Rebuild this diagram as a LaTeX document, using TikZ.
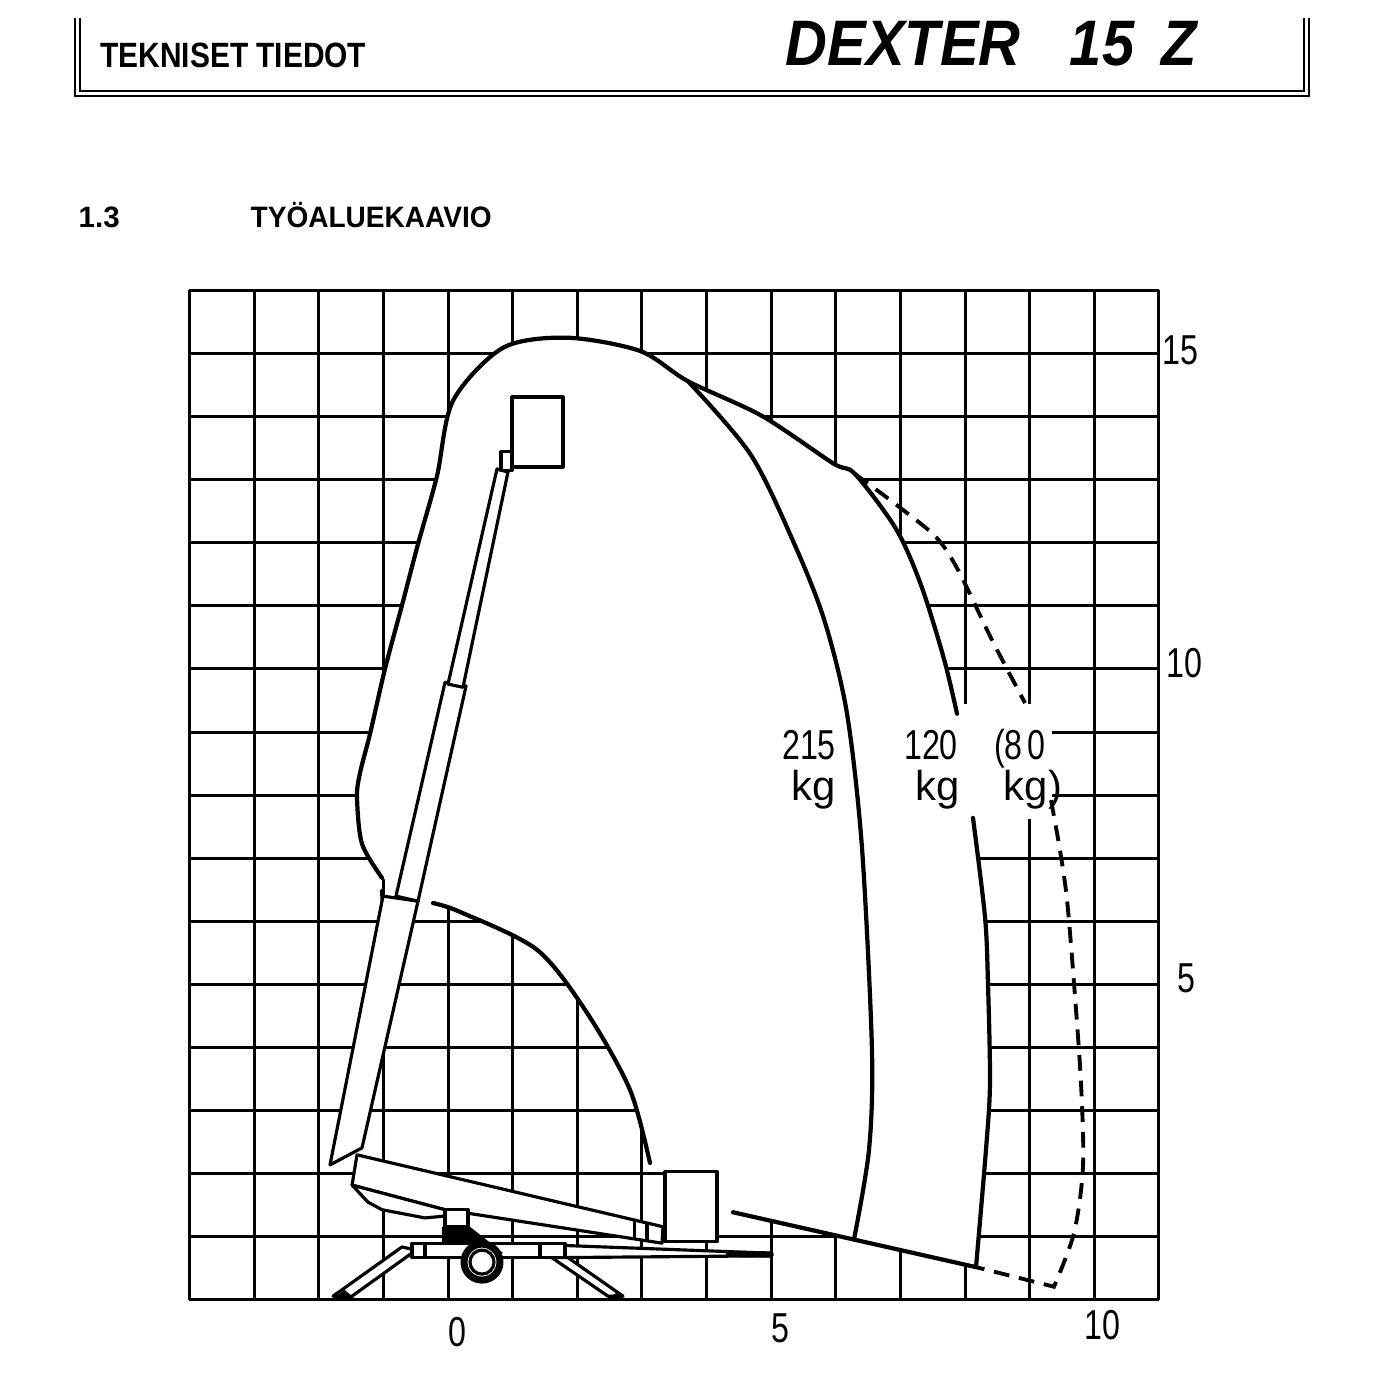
\documentclass[tikz,border=0pt]{standalone}
\usepackage{fontspec}
\setmainfont{Liberation Sans}
\usepackage{tikz}
\tikzstyle{gridline}=[line width=0.85pt]
\tikzstyle{envelope}=[line width=1.2pt, line join=round, line cap=round]
\tikzstyle{loaddash}=[line width=1.1pt, dash pattern=on 4.5pt off 2.8pt]
\tikzstyle{part}=[draw, fill=white, line width=0.9pt, line join=round]
\tikzstyle{frameline}=[line width=0.6pt]
\tikzstyle{scalelabel}=[inner sep=0pt, anchor=base, font=\fontsize{11.9}{13}\selectfont]
\tikzstyle{heading}=[inner sep=0pt, anchor=base west]
\newcommand{\narrow}[1]{\scalebox{0.77}[1]{#1}}

\begin{document}
\begin{tikzpicture}[x=0.6463cm, y=0.631cm]
  \useasboundingbox (-6.932,-1.585) rectangle (14.730,20.602);
  \begin{scope}
    \draw[frameline] (-5.771,20.32) -- (-5.771,19.08) -- (13.322,19.08) -- (13.322,20.32);
    \draw[frameline] (-5.694,20.32) -- (-5.694,19.16) -- (13.245,19.16) -- (13.245,20.32);
    \node[heading] (title) at (-5.385,19.54) {\fontsize{10}{12}\selectfont\bfseries\scalebox{0.85}[1]{TEKNISET TIEDOT}};
    \node[heading] (model) at (5.214,19.57) {\fontsize{18.3}{20}\selectfont\bfseries\itshape\scalebox{0.9}[1]{DEXTER\hspace{0.55cm}15\hspace{0.3cm}Z}};
    \node[heading] (secno) at (-5.725,16.99) {\fontsize{8.4}{10}\selectfont\bfseries 1.3};
    \node[heading] (sectitle) at (-3.064,16.99) {\fontsize{8.4}{10}\selectfont\bfseries\scalebox{0.95}[1]{TYÖALUEKAAVIO}};
  \end{scope}
  \begin{scope}
    \foreach \i in {-4,...,11}
      \draw[gridline] (\i,0) -- (\i,16);
    \foreach \j in {0,...,16}
      \draw[gridline] (-4,\j) -- (11,\j);
    \fill[white] plot[smooth] coordinates {(-1.021,6.69) (-1.331,7.23) (-1.408,7.96) (-1.362,8.35) (-1.207,8.97) (-0.975,10.00) (-0.712,11.01) (-0.464,11.98) (-0.170,13.06) (0.077,14.25) (0.851,15.09) (1.841,15.25) (2.971,15.04) (3.713,14.56) (4.858,14.01) (5.957,13.26) (6.297,13.09) (6.932,12.22) (7.319,11.33) (7.674,10.16) (7.876,9.29) (8.123,7.64) (8.309,6.07) (8.355,5.02) (8.386,3.44) (8.324,2.38) (8.170,0.52)} -- (4.41,1.39) -- (4.162,1.39) -- (4.162,2.03) -- (3.358,2.03) -- plot[smooth] coordinates {(3.125,2.17) (2.816,3.33) (2.151,4.55) (1.377,5.55) (0.186,6.15) (-0.232,6.29)} -- cycle;
    \fill[white] (7.85,7.62) rectangle (9.34,9.45);
  \end{scope}
  \begin{scope}
    \draw[envelope] plot[smooth] coordinates {(-1.021,6.69) (-1.331,7.23) (-1.408,7.96) (-1.362,8.35) (-1.207,8.97) (-0.975,10.00) (-0.712,11.01) (-0.464,11.98) (-0.170,13.06) (0.077,14.25) (0.851,15.09) (1.841,15.25) (2.971,15.04) (3.713,14.56) (4.858,14.01) (5.957,13.26) (6.297,13.09) (6.932,12.22) (7.319,11.33) (7.674,10.16) (7.876,9.29)};
    \draw[envelope] plot[smooth] coordinates {(8.123,7.64) (8.309,6.07) (8.355,5.02) (8.386,3.44) (8.324,2.38) (8.170,0.52)};
    \draw[envelope] plot[smooth] coordinates {(3.713,14.56) (4.688,13.39) (5.385,11.92) (5.833,10.74) (6.174,9.29) (6.406,7.16) (6.560,3.96) (6.514,2.38) (6.282,0.96)};
    \draw[envelope] (4.41,1.39) -- (8.170,0.52);
    \draw[loaddash] plot[smooth] coordinates {(6.297,13.09) (6.576,12.88) (6.978,12.57) (7.551,12.09) (7.891,11.57) (8.417,10.46) (8.928,9.46)};
    \draw[loaddash] plot[smooth] coordinates {(9.330,7.92) (9.469,7.13) (9.578,6.34) (9.686,5.02) (9.794,3.44) (9.825,2.11) (9.686,1.06) (9.376,0.21)} -- (8.170,0.52);
    \draw[envelope] plot[smooth] coordinates {(-0.232,6.29) (0.186,6.15) (1.377,5.55) (2.151,4.55) (2.816,3.33) (3.125,2.17)};
    \draw[envelope] (-1.021,6.48) -- (-1.006,6.26);
  \end{scope}
  \begin{scope}
    \draw[part] (-1.006,6.40) -- (-0.464,6.32) -- (-1.331,2.41) -- (-1.826,2.14) -- cycle;
    \draw[part] (-0.046,9.79) -- (0.279,9.73) -- (-0.464,6.32) -- (-0.805,6.40) -- cycle;
    \draw[part] (0.758,13.17) -- (0.928,13.12) -- (0.232,9.71) -- (0.0,9.76) -- cycle;
    \draw[part] (0.82,13.15) rectangle (0.99,13.44);
    \draw[part] (0.99,13.20) rectangle (1.779,14.31);
    \draw[part] (-1.485,0.06) -- (-1.779,0.06) -- (-0.712,0.84) -- (-0.495,0.79) -- cycle;
    \draw[part] (2.476,0.06) -- (2.708,0.06) -- (1.578,0.87) -- (1.393,0.82) -- cycle;
    \fill (-1.80,0.0) -- (-1.42,0.0) -- (-1.60,0.16) -- cycle;
    \fill (2.42,0.0) -- (2.74,0.0) -- (2.62,0.12) -- cycle;
    \draw[part] (1.625,0.87) -- (5.013,0.74) -- (5.013,0.70) -- (1.625,0.67) -- cycle;
    \draw[line width=1.8pt] (4.30,0.73) -- (5.013,0.72);
    \draw[part] (-0.557,0.67) rectangle (1.810,0.90);
    \draw[line width=0.9pt] (-0.356,0.67) -- (-0.356,0.90);
    \draw[line width=0.9pt] (1.423,0.67) -- (1.423,0.90);
    \draw[part] (-1.408,2.30) -- (3.327,1.16) -- (3.311,0.90) -- (-0.046,1.43) -- (-1.485,1.82) -- cycle;
    \draw[line width=0.9pt] (2.89,1.26) -- (2.89,0.97);
    \draw[line width=0.9pt] (3.08,1.21) -- (3.08,0.94);
    \draw[part] (-1.485,1.82) -- (-1.238,1.55) -- (-1.021,1.43) -- (-0.356,1.30) -- (-0.046,1.33) -- (-0.046,1.43) -- cycle;
    \fill (-0.093,1.16) -- (0.340,1.16) -- (0.851,0.745) -- (0.650,0.745) -- (0.340,0.92) -- (-0.093,0.92) -- cycle;
    \draw[part] (-0.046,1.16) rectangle (0.309,1.43);
    \draw[part, line width=2pt] (0.526,0.60) circle (0.18cm);
    \draw[line width=0.9pt] (0.526,0.60) circle (0.12cm);
    \draw[part] (3.358,0.92) rectangle (4.162,2.03);
  \end{scope}
  \begin{scope}
    \node[scalelabel] (x0) at (0.14,-0.745) {\narrow{0}};
    \node[scalelabel] (x5) at (5.15,-0.68) {\narrow{5}};
    \node[scalelabel] (x10) at (10.12,-0.634) {\narrow{10}};
    \node[scalelabel] (y15) at (11.34,14.83) {\narrow{15}};
    \node[scalelabel] (y10) at (11.40,9.87) {\narrow{10}};
    \node[scalelabel] (y5) at (11.42,4.88) {\narrow{5}};
    \node[scalelabel] (load215) at (5.586,8.57) {\narrow{215}};
    \node[scalelabel] (kg215) at (5.663,7.92) {kg};
    \node[scalelabel] (load120) at (7.473,8.57) {\narrow{120}};
    \node[scalelabel] (kg120) at (7.58,7.92) {kg};
    \node[scalelabel] (load80) at (8.85,8.57) {\narrow{(8\,0}};
    \node[scalelabel] (kg80) at (9.05,7.92) {kg)};
  \end{scope}
\end{tikzpicture}
\end{document}
